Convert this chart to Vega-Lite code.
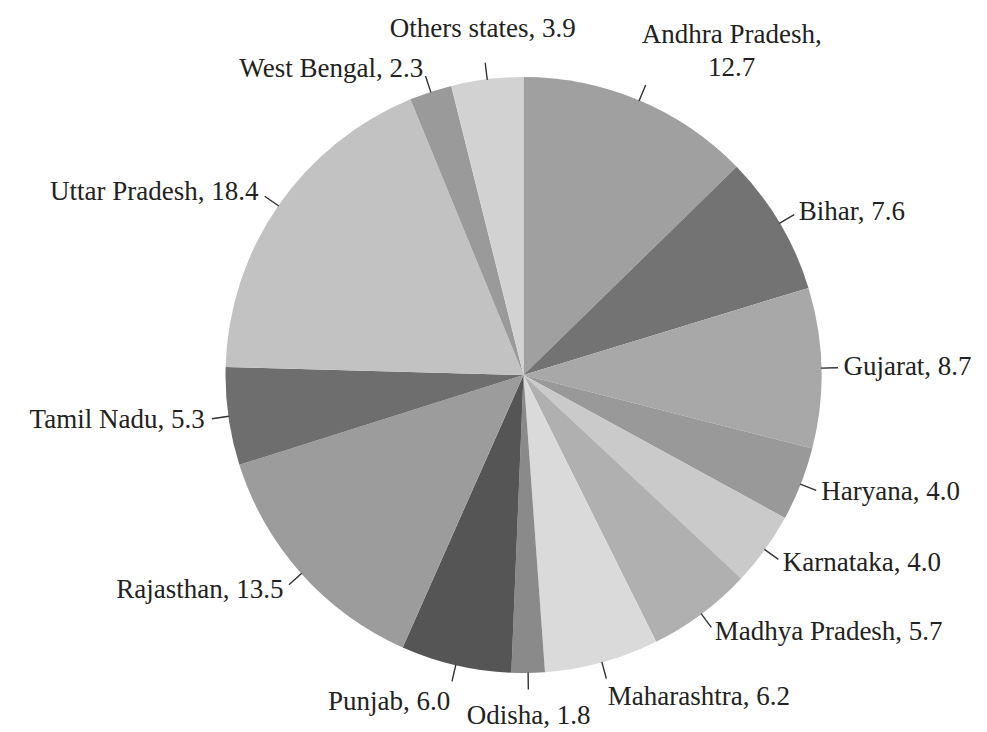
{
  "$schema": "https://vega.github.io/schema/vega-lite/v6.json",
  "width": 987,
  "height": 732,
  "autosize": {"type": "fit", "contains": "padding"},
  "padding": {"left": 59, "top": 18, "right": 0, "bottom": 0},
  "background": "white",
  "config": {"view": {"stroke": null}, "text": {"font": "Liberation Serif", "fontSize": 27, "fill": "#222222"}},
  "data": {
    "values": [
      {"state": "Andhra Pradesh", "share": 12.7},
      {"state": "Bihar", "share": 7.6},
      {"state": "Gujarat", "share": 8.7},
      {"state": "Haryana", "share": 4.0},
      {"state": "Karnataka", "share": 4.0},
      {"state": "Madhya Pradesh", "share": 5.7},
      {"state": "Maharashtra", "share": 6.2},
      {"state": "Odisha", "share": 1.8},
      {"state": "Punjab", "share": 6.0},
      {"state": "Rajasthan", "share": 13.5},
      {"state": "Tamil Nadu", "share": 5.3},
      {"state": "Uttar Pradesh", "share": 18.4},
      {"state": "West Bengal", "share": 2.3},
      {"state": "Others states", "share": 3.9}
    ]
  },
  "transform": [
    {"window": [{"op": "sum", "field": "share", "as": "cum"}], "frame": [null, 0]},
    {"calculate": "datum.cum - datum.share", "as": "start"},
    {"calculate": "datum.cum - datum.share / 2", "as": "mid"},
    {"calculate": "datum.mid + 0.01", "as": "mid2"},
    {"calculate": "datum.mid / 100.1 * 360", "as": "deg"},
    {"calculate": "datum.deg > 8 && datum.deg < 30 ? datum.state + ',\\n' + format(datum.share, '.1f') : datum.state + ', ' + format(datum.share, '.1f')", "as": "label"}
  ],
  "layer": [
    {
      "mark": {"type": "arc", "radius": 298},
      "encoding": {
        "theta": {"field": "start", "type": "quantitative", "scale": {"domain": [0, 100.1], "zero": true, "nice": false}},
        "theta2": {"field": "cum"},
        "color": {
          "field": "state",
          "type": "nominal",
          "legend": null,
          "scale": {
            "domain": ["Andhra Pradesh", "Bihar", "Gujarat", "Haryana", "Karnataka", "Madhya Pradesh", "Maharashtra", "Odisha", "Punjab", "Rajasthan", "Tamil Nadu", "Uttar Pradesh", "West Bengal", "Others states"],
            "range": ["#a0a0a0", "#737373", "#a8a8a8", "#999999", "#cacaca", "#b0b0b0", "#dadada", "#8a8a8a", "#555555", "#9c9c9c", "#6e6e6e", "#c2c2c2", "#9a9a9a", "#d2d2d2"]
          }
        }
      }
    },
    {
      "mark": {"type": "arc", "radius": 314, "radius2": 298, "stroke": "#333333", "strokeWidth": 1.2, "fill": "#333333"},
      "encoding": {
        "theta": {"field": "mid", "type": "quantitative", "scale": {"domain": [0, 100.1], "zero": true, "nice": false}},
        "theta2": {"field": "mid2"}
      }
    },
    {
      "transform": [{"filter": "datum.deg > 8 && datum.deg < 30"}],
      "mark": {"type": "text", "radius": 369, "align": "center", "baseline": "middle", "dx": 65, "lineBreak": "\n", "lineHeight": 33},
      "encoding": {"theta": {"field": "mid", "type": "quantitative"}, "text": {"field": "label"}}
    },
    {
      "transform": [{"filter": "datum.deg >= 30 && datum.deg < 150"}],
      "mark": {"type": "text", "radius": 320, "align": "left", "baseline": "middle"},
      "encoding": {"theta": {"field": "mid", "type": "quantitative"}, "text": {"field": "label"}}
    },
    {
      "transform": [{"filter": "datum.deg >= 150 && datum.deg <= 172"}],
      "mark": {"type": "text", "radius": 320, "align": "left", "baseline": "top"},
      "encoding": {"theta": {"field": "mid", "type": "quantitative"}, "text": {"field": "label"}}
    },
    {
      "transform": [{"filter": "datum.deg > 172 && datum.deg < 188"}],
      "mark": {"type": "text", "radius": 328, "align": "center", "baseline": "top"},
      "encoding": {"theta": {"field": "mid", "type": "quantitative"}, "text": {"field": "label"}}
    },
    {
      "transform": [{"filter": "datum.deg >= 188 && datum.deg < 210"}],
      "mark": {"type": "text", "radius": 322, "align": "right", "baseline": "top"},
      "encoding": {"theta": {"field": "mid", "type": "quantitative"}, "text": {"field": "label"}}
    },
    {
      "transform": [{"filter": "datum.deg >= 210 && datum.deg <= 350"}],
      "mark": {"type": "text", "radius": 322, "align": "right", "baseline": "middle"},
      "encoding": {"theta": {"field": "mid", "type": "quantitative"}, "text": {"field": "label"}}
    },
    {
      "transform": [{"filter": "datum.deg > 350 || datum.deg <= 8"}],
      "mark": {"type": "text", "radius": 334, "align": "center", "baseline": "bottom"},
      "encoding": {"theta": {"field": "mid", "type": "quantitative"}, "text": {"field": "label"}}
    }
  ]
}
